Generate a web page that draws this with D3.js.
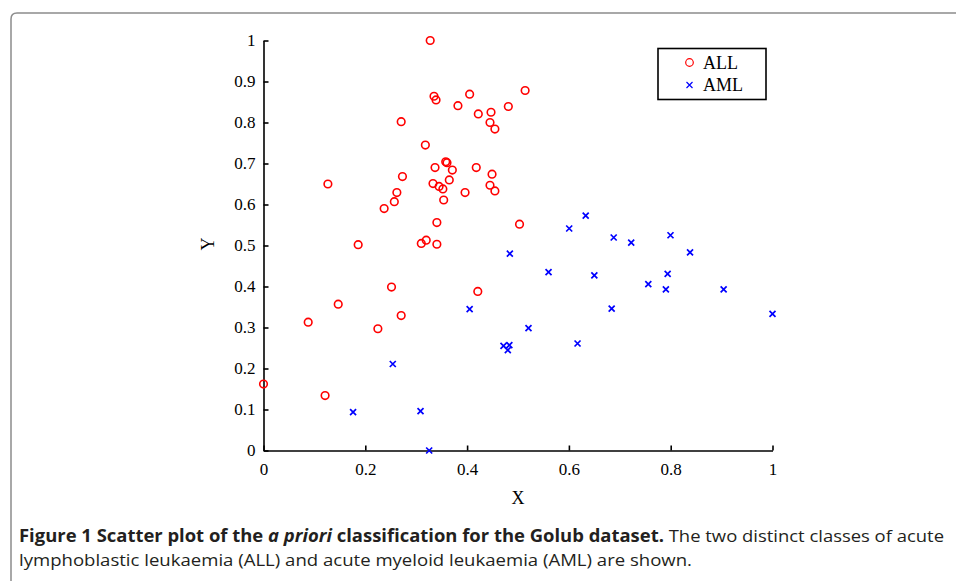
<!DOCTYPE html>
<html><head><meta charset="utf-8">
<script src="https://cdn.jsdelivr.net/npm/d3@7"></script>
<style>body{margin:0;background:#fff;} svg{display:block;}</style>
</head><body>
<svg id="c" width="956" height="581"></svg>
<script>
// ALL class points [x, y]
const allX = [0.3275,0.514,0.405,0.335,0.339,0.382,0.481,0.447,0.422,0.2705,0.445,0.4546,0.318,0.358,0.3605,0.337,0.371,0.418,0.273,0.449,0.365,0.1265,0.333,0.345,0.3524,0.445,0.4546,0.396,0.262,0.257,0.354,0.237,0.3406,0.503,0.186,0.31,0.3197,0.3406,0.2515,0.421,0.1468,0.0878,0.2705,0.2247,0.0,0.121];
const allY = [1.0,0.878,0.869,0.864,0.855,0.841,0.839,0.825,0.821,0.802,0.800,0.784,0.745,0.704,0.702,0.690,0.684,0.690,0.668,0.674,0.660,0.650,0.651,0.644,0.638,0.647,0.633,0.629,0.629,0.607,0.611,0.590,0.556,0.552,0.502,0.505,0.513,0.503,0.3985,0.388,0.357,0.313,0.329,0.297,0.162,0.134];
// AML class points
const amlX = [0.484,0.560,0.405,0.5206,0.4715,0.483,0.480,0.254,0.176,0.3085,0.3255,0.633,0.6006,0.688,0.7224,0.7996,0.838,0.650,0.794,0.756,0.7905,0.904,1.0,0.684,0.617];
const amlY = [0.480,0.435,0.345,0.2985,0.2554,0.257,0.245,0.211,0.0937,0.096,0.0,0.573,0.5415,0.5195,0.507,0.525,0.483,0.427,0.431,0.406,0.393,0.393,0.333,0.346,0.261];
const tickVals = [0,0.1,0.2,0.3,0.4,0.5,0.6,0.7,0.8,0.9,1];
const xTickVals = [0,0.2,0.4,0.6,0.8,1];
const legendLabels = ["ALL","AML"];

const svg = d3.select("#c");
const serif = "'Liberation Serif','Times New Roman',serif";

// frame
svg.append("path")
  .attr("d","M11,590 L11,19 Q11,13 17,13 L970,13")
  .attr("fill","none").attr("stroke","#8c8c8c").attr("stroke-width",1.5);

const x = d3.scaleLinear().domain([0,1]).range([263.5,772.5]);
const y = d3.scaleLinear().domain([0,1]).range([450.5,40.5]);

const fmt = d => d===0?"0":(d===1?"1":d3.format(".1f")(d));

const gx = svg.append("g").attr("transform","translate(0,450.5)")
  .call(d3.axisBottom(x).tickValues(xTickVals).tickFormat(fmt).tickSizeInner(-5).tickSizeOuter(0).tickPadding(12));
const gy = svg.append("g").attr("transform","translate(263.5,0)")
  .call(d3.axisLeft(y).tickValues(tickVals).tickFormat(fmt).tickSizeInner(-5).tickSizeOuter(0).tickPadding(8));
[gx,gy].forEach(g=>{
  g.select(".domain").attr("stroke","#000").attr("stroke-width",1.6);
  g.selectAll(".tick line").attr("stroke","#000").attr("stroke-width",1.6);
  g.selectAll(".tick text").attr("fill","#000").style("font-family",serif).style("font-size","17px");
});

// labels
svg.append("text").attr("x",518).attr("y",504).attr("text-anchor","middle")
  .style("font-family",serif).style("font-size","18px").text("X");
svg.append("text").attr("transform","translate(214,244) rotate(-90)").attr("text-anchor","middle")
  .style("font-family",serif).style("font-size","18px").text("Y");

// points
const allData = allX.map((v,i)=>[v,allY[i]]);
const amlData = amlX.map((v,i)=>[v,amlY[i]]);
svg.append("g").selectAll("circle").data(allData).join("circle")
  .attr("cx",d=>x(d[0])).attr("cy",d=>y(d[1])).attr("r",3.8)
  .attr("fill","none").attr("stroke","#ff0000").attr("stroke-width",1.6);
const s = 3;
svg.append("g").selectAll("path").data(amlData).join("path")
  .attr("d",d=>{const cx=x(d[0]),cy=y(d[1]);return `M${cx-s},${cy-s}L${cx+s},${cy+s}M${cx-s},${cy+s}L${cx+s},${cy-s}`;})
  .attr("fill","none").attr("stroke","#0000ff").attr("stroke-width",1.7);

// legend
const lg = svg.append("g");
lg.append("rect").attr("x",658).attr("y",48.5).attr("width",108).attr("height",51)
  .attr("fill","#fff").attr("stroke","#000").attr("stroke-width",1.6);
lg.append("circle").attr("cx",689.5).attr("cy",62.5).attr("r",3.8)
  .attr("fill","none").attr("stroke","#ff0000").attr("stroke-width",1.2);
lg.append("path").attr("d",`M${689.5-s},${85-s}L${689.5+s},${85+s}M${689.5-s},${85+s}L${689.5+s},${85-s}`)
  .attr("stroke","#0000ff").attr("stroke-width",1.2);
lg.selectAll("text").data(legendLabels).join("text")
  .attr("x",703).attr("y",(d,i)=>69+i*22)
  .style("font-family",serif).style("font-size","18px").text(d=>d);

// caption
const sans = "'Open Sans','Noto Sans',sans-serif";
const c1 = svg.append("text").attr("x",19).attr("y",542).style("font-family",sans).style("font-size","17px").attr("fill","#231f20");
c1.append("tspan").style("font-weight","bold").text("Figure 1 Scatter plot of the ");
c1.append("tspan").style("font-weight","bold").style("font-style","italic").text("a priori");
c1.append("tspan").style("font-weight","bold").text(" classification for the Golub dataset.");
c1.append("tspan").text(" The two distinct classes of acute");
const c2 = svg.append("text").attr("x",19).attr("y",566).style("font-family",sans).style("font-size","17px").attr("fill","#231f20")
  .text("lymphoblastic leukaemia (ALL) and acute myeloid leukaemia (AML) are shown.");
c1.attr("textLength",925).attr("lengthAdjust","spacingAndGlyphs");
c2.attr("textLength",673).attr("lengthAdjust","spacingAndGlyphs");
</script>
</body></html>
